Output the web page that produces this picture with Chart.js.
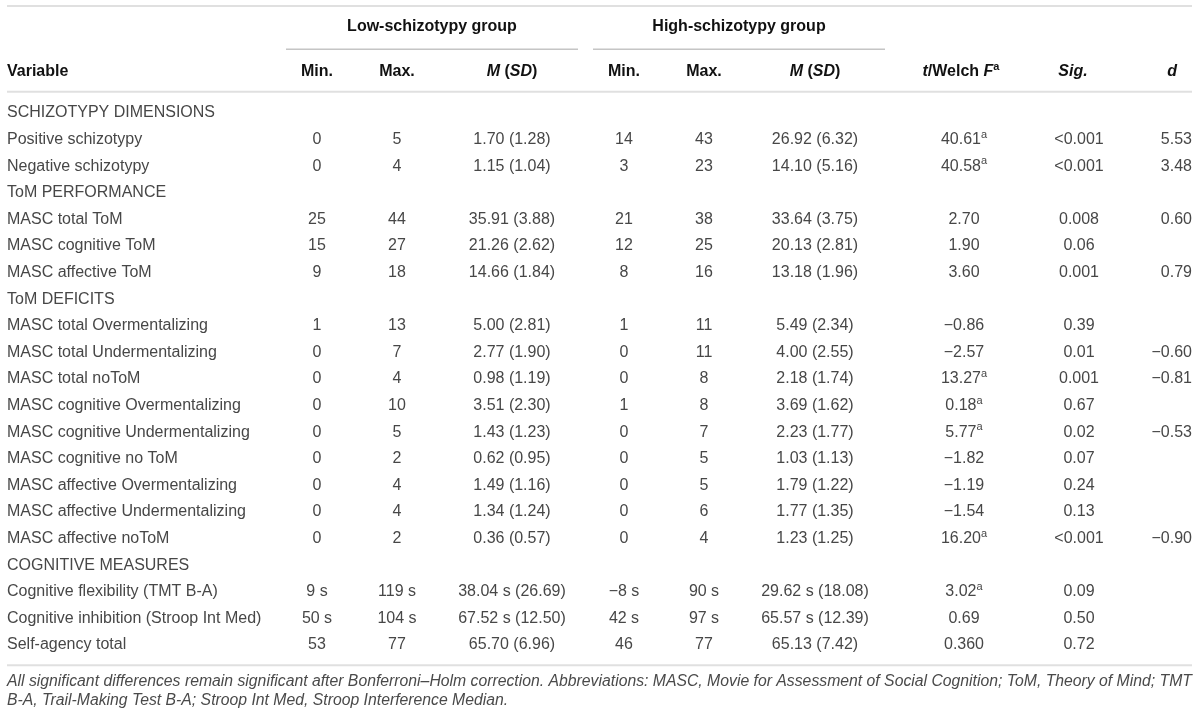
<!DOCTYPE html>
<html>
<head>
<meta charset="utf-8">
<script src="https://cdn.jsdelivr.net/npm/chart.js@4.4.1/dist/chart.umd.min.js"></script>
<style>
  html, body { margin: 0; padding: 0; background: #fff; }
  #wrap { width: 1200px; height: 717px; position: relative; }
</style>
</head>
<body>
<div id="wrap"><canvas id="myChart"></canvas></div>
<script>
// table rows (section headings have no values)
var variables = [
  'SCHIZOTYPY DIMENSIONS', 'Positive schizotypy', 'Negative schizotypy',
  'ToM PERFORMANCE', 'MASC total ToM', 'MASC cognitive ToM', 'MASC affective ToM',
  'ToM DEFICITS', 'MASC total Overmentalizing', 'MASC total Undermentalizing', 'MASC total noToM',
  'MASC cognitive Overmentalizing', 'MASC cognitive Undermentalizing', 'MASC cognitive no ToM',
  'MASC affective Overmentalizing', 'MASC affective Undermentalizing', 'MASC affective noToM',
  'COGNITIVE MEASURES', 'Cognitive flexibility (TMT B-A)', 'Cognitive inhibition (Stroop Int Med)',
  'Self-agency total'
];
var lowMin  = ['', '0', '0', '', '25', '15', '9', '', '1', '0', '0', '0', '0', '0', '0', '0', '0', '', '9 s', '50 s', '53'];
var lowMax  = ['', '5', '4', '', '44', '27', '18', '', '13', '7', '4', '10', '5', '2', '4', '4', '2', '', '119 s', '104 s', '77'];
var lowM    = ['', '1.70 (1.28)', '1.15 (1.04)', '', '35.91 (3.88)', '21.26 (2.62)', '14.66 (1.84)', '',
               '5.00 (2.81)', '2.77 (1.90)', '0.98 (1.19)', '3.51 (2.30)', '1.43 (1.23)', '0.62 (0.95)',
               '1.49 (1.16)', '1.34 (1.24)', '0.36 (0.57)', '', '38.04 s (26.69)', '67.52 s (12.50)', '65.70 (6.96)'];
var highMin = ['', '14', '3', '', '21', '12', '8', '', '1', '0', '0', '1', '0', '0', '0', '0', '0', '', '\u22128 s', '42 s', '46'];
var highMax = ['', '43', '23', '', '38', '25', '16', '', '11', '11', '8', '8', '7', '5', '5', '6', '4', '', '90 s', '97 s', '77'];
var highM   = ['', '26.92 (6.32)', '14.10 (5.16)', '', '33.64 (3.75)', '20.13 (2.81)', '13.18 (1.96)', '',
               '5.49 (2.34)', '4.00 (2.55)', '2.18 (1.74)', '3.69 (1.62)', '2.23 (1.77)', '1.03 (1.13)',
               '1.79 (1.22)', '1.77 (1.35)', '1.23 (1.25)', '', '29.62 s (18.08)', '65.57 s (12.39)', '65.13 (7.42)'];
var tStat   = ['', '40.61', '40.58', '', '2.70', '1.90', '3.60', '', '\u22120.86', '\u22122.57', '13.27', '0.18',
               '5.77', '\u22121.82', '\u22121.19', '\u22121.54', '16.20', '', '3.02', '0.69', '0.360'];
var welch   = [0, 1, 1, 0, 0, 0, 0, 0, 0, 0, 1, 1, 1, 0, 0, 0, 1, 0, 1, 0, 0];
var sig     = ['', '<0.001', '<0.001', '', '0.008', '0.06', '0.001', '', '0.39', '0.01', '0.001', '0.67',
               '0.02', '0.07', '0.24', '0.13', '<0.001', '', '0.09', '0.50', '0.72'];
var dEff    = ['', '5.53', '3.48', '', '0.60', '', '0.79', '', '', '\u22120.60', '\u22120.81', '',
               '\u22120.53', '', '', '', '\u22120.90', '', '', '', ''];
var groups  = ['Low-schizotypy group', 'High-schizotypy group'];
var footnote = [
  'All significant differences remain significant after Bonferroni\u2013Holm correction. Abbreviations: MASC, Movie for Assessment of Social Cognition; ToM, Theory of Mind; TMT',
  'B-A, Trail-Making Test B-A; Stroop Int Med, Stroop Interference Median.'
];

var FAM = '"Liberation Sans", Arial, sans-serif';
var F_REG = '16px ' + FAM;
var F_BOLD = 'bold 16px ' + FAM;
var F_BI = 'italic bold 16px ' + FAM;
var F_SUP = '11px ' + FAM;
var F_SUPB = 'bold 11px ' + FAM;
var BODY = '#474747';
var HEAD = '#111';

// column anchors in table units (x scale runs 0..1200)
var cols = {
  label: 7, lowMin: 317, lowMax: 397, lowM: 512,
  highMin: 624, highMax: 704, highM: 815, t: 964, sig: 1079, d: 1192,
  lowLine: [286, 578], highLine: [593, 885], rule: [7, 1192]
};

function drawRuns(ctx, runs, x, y, align) {
  var w = 0;
  runs.forEach(function (r) { ctx.font = r.font; r.w = ctx.measureText(r.t).width; w += r.w; });
  var sx = align === 'center' ? x - w / 2 : (align === 'right' ? x - w : x);
  ctx.textAlign = 'left';
  runs.forEach(function (r) {
    ctx.font = r.font;
    ctx.fillStyle = r.color || BODY;
    ctx.fillText(r.t, sx, y + (r.dy || 0));
    sx += r.w;
  });
}

function hline(ctx, x0, x1, y, color, width) {
  ctx.strokeStyle = color;
  ctx.lineWidth = width;
  ctx.beginPath();
  ctx.moveTo(x0, y);
  ctx.lineTo(x1, y);
  ctx.stroke();
}

var tablePlugin = {
  id: 'tablePlugin',
  afterDraw: function (chart) {
    var ctx = chart.ctx;
    var xs = chart.scales.x, ys = chart.scales.y;
    var X = function (v) { return xs.getPixelForValue(v); };
    var Y = function (i) { return ys.getPixelForValue(i); };
    var step = Y(1) - Y(0);
    ctx.save();
    ctx.textBaseline = 'middle';

    // rules
    var topRule = Y(0) - 4.02 * step;
    var groupLine = Y(0) - 2.4 * step;
    var headY = Y(0) - 1.55 * step;
    var headRule = Y(0) - 0.8 * step;
    var groupY = Y(0) - 3.24 * step;
    var bottomRule = Y(variables.length - 1) + 0.76 * step;

    hline(ctx, X(cols.rule[0]), X(cols.rule[1]), topRule, '#e0e0e0', 2);
    hline(ctx, X(cols.rule[0]), X(cols.rule[1]), headRule, '#e0e0e0', 2);
    hline(ctx, X(cols.rule[0]), X(cols.rule[1]), bottomRule, '#e0e0e0', 2);
    hline(ctx, X(cols.lowLine[0]), X(cols.lowLine[1]), groupLine, '#a8a8a8', 1);
    hline(ctx, X(cols.highLine[0]), X(cols.highLine[1]), groupLine, '#a8a8a8', 1);

    // group headings
    drawRuns(ctx, [{t: groups[0], font: F_BOLD, color: HEAD}], X((cols.lowLine[0] + cols.lowLine[1]) / 2), groupY, 'center');
    drawRuns(ctx, [{t: groups[1], font: F_BOLD, color: HEAD}], X((cols.highLine[0] + cols.highLine[1]) / 2), groupY, 'center');

    // column headings
    var msd = [{t: 'M', font: F_BI, color: HEAD}, {t: ' (', font: F_BOLD, color: HEAD},
               {t: 'SD', font: F_BI, color: HEAD}, {t: ')', font: F_BOLD, color: HEAD}];
    drawRuns(ctx, [{t: 'Variable', font: F_BOLD, color: HEAD}], X(cols.label), headY, 'left');
    drawRuns(ctx, [{t: 'Min.', font: F_BOLD, color: HEAD}], X(cols.lowMin), headY, 'center');
    drawRuns(ctx, [{t: 'Max.', font: F_BOLD, color: HEAD}], X(cols.lowMax), headY, 'center');
    drawRuns(ctx, msd, X(cols.lowM), headY, 'center');
    drawRuns(ctx, [{t: 'Min.', font: F_BOLD, color: HEAD}], X(cols.highMin), headY, 'center');
    drawRuns(ctx, [{t: 'Max.', font: F_BOLD, color: HEAD}], X(cols.highMax), headY, 'center');
    drawRuns(ctx, msd, X(cols.highM), headY, 'center');
    drawRuns(ctx, [{t: 't', font: F_BI, color: HEAD}, {t: '/Welch ', font: F_BOLD, color: HEAD},
                   {t: 'F', font: F_BI, color: HEAD}, {t: 'a', font: F_SUPB, color: HEAD, dy: -5}],
             X(cols.t - 3), headY, 'center');
    drawRuns(ctx, [{t: 'Sig.', font: F_BI, color: HEAD}], X(cols.sig - 6), headY, 'center');
    drawRuns(ctx, [{t: 'd', font: F_BI, color: HEAD}], X(cols.d - 15), headY, 'right');

    // body
    variables.forEach(function (name, i) {
      var y = Y(i);
      drawRuns(ctx, [{t: name, font: F_REG}], X(cols.label), y, 'left');
      if (!lowMin[i]) return;
      drawRuns(ctx, [{t: lowMin[i], font: F_REG}], X(cols.lowMin), y, 'center');
      drawRuns(ctx, [{t: lowMax[i], font: F_REG}], X(cols.lowMax), y, 'center');
      drawRuns(ctx, [{t: lowM[i], font: F_REG}], X(cols.lowM), y, 'center');
      drawRuns(ctx, [{t: highMin[i], font: F_REG}], X(cols.highMin), y, 'center');
      drawRuns(ctx, [{t: highMax[i], font: F_REG}], X(cols.highMax), y, 'center');
      drawRuns(ctx, [{t: highM[i], font: F_REG}], X(cols.highM), y, 'center');
      var tr = [{t: tStat[i], font: F_REG}];
      if (welch[i]) tr.push({t: 'a', font: F_SUP, dy: -5});
      drawRuns(ctx, tr, X(cols.t), y, 'center');
      drawRuns(ctx, [{t: sig[i], font: F_REG}], X(cols.sig), y, 'center');
      if (dEff[i]) drawRuns(ctx, [{t: dEff[i], font: F_REG}], X(cols.d), y, 'right');
    });

    // footnote, sized so the first line spans the table width
    ctx.font = 'italic 16px ' + FAM;
    var avail = X(cols.rule[1]) - X(cols.rule[0]);
    var fsize = Math.min(16, 16 * avail / ctx.measureText(footnote[0]).width);
    var F_NOTE = 'italic ' + fsize.toFixed(2) + 'px ' + FAM;
    footnote.forEach(function (line, k) {
      drawRuns(ctx, [{t: line, font: F_NOTE, color: '#4a4a4a'}], X(cols.label), bottomRule + 0.62 * step + k * 0.72 * step, 'left');
    });
    ctx.restore();
  }
};

var ctx = document.getElementById('myChart');
var myChart = new Chart(ctx, {
  type: 'scatter',
  data: { datasets: [] },
  options: {
    responsive: true,
    maintainAspectRatio: false,
    animation: false,
    layout: { padding: { top: 113, bottom: 72, left: 0, right: 0 } },
    scales: {
      x: { type: 'linear', min: 0, max: 1200, display: false },
      y: { type: 'category', labels: variables, offset: false, display: false }
    },
    plugins: { legend: { display: false }, tooltip: { enabled: false } }
  },
  plugins: [tablePlugin]
});
</script>
</body>
</html>
